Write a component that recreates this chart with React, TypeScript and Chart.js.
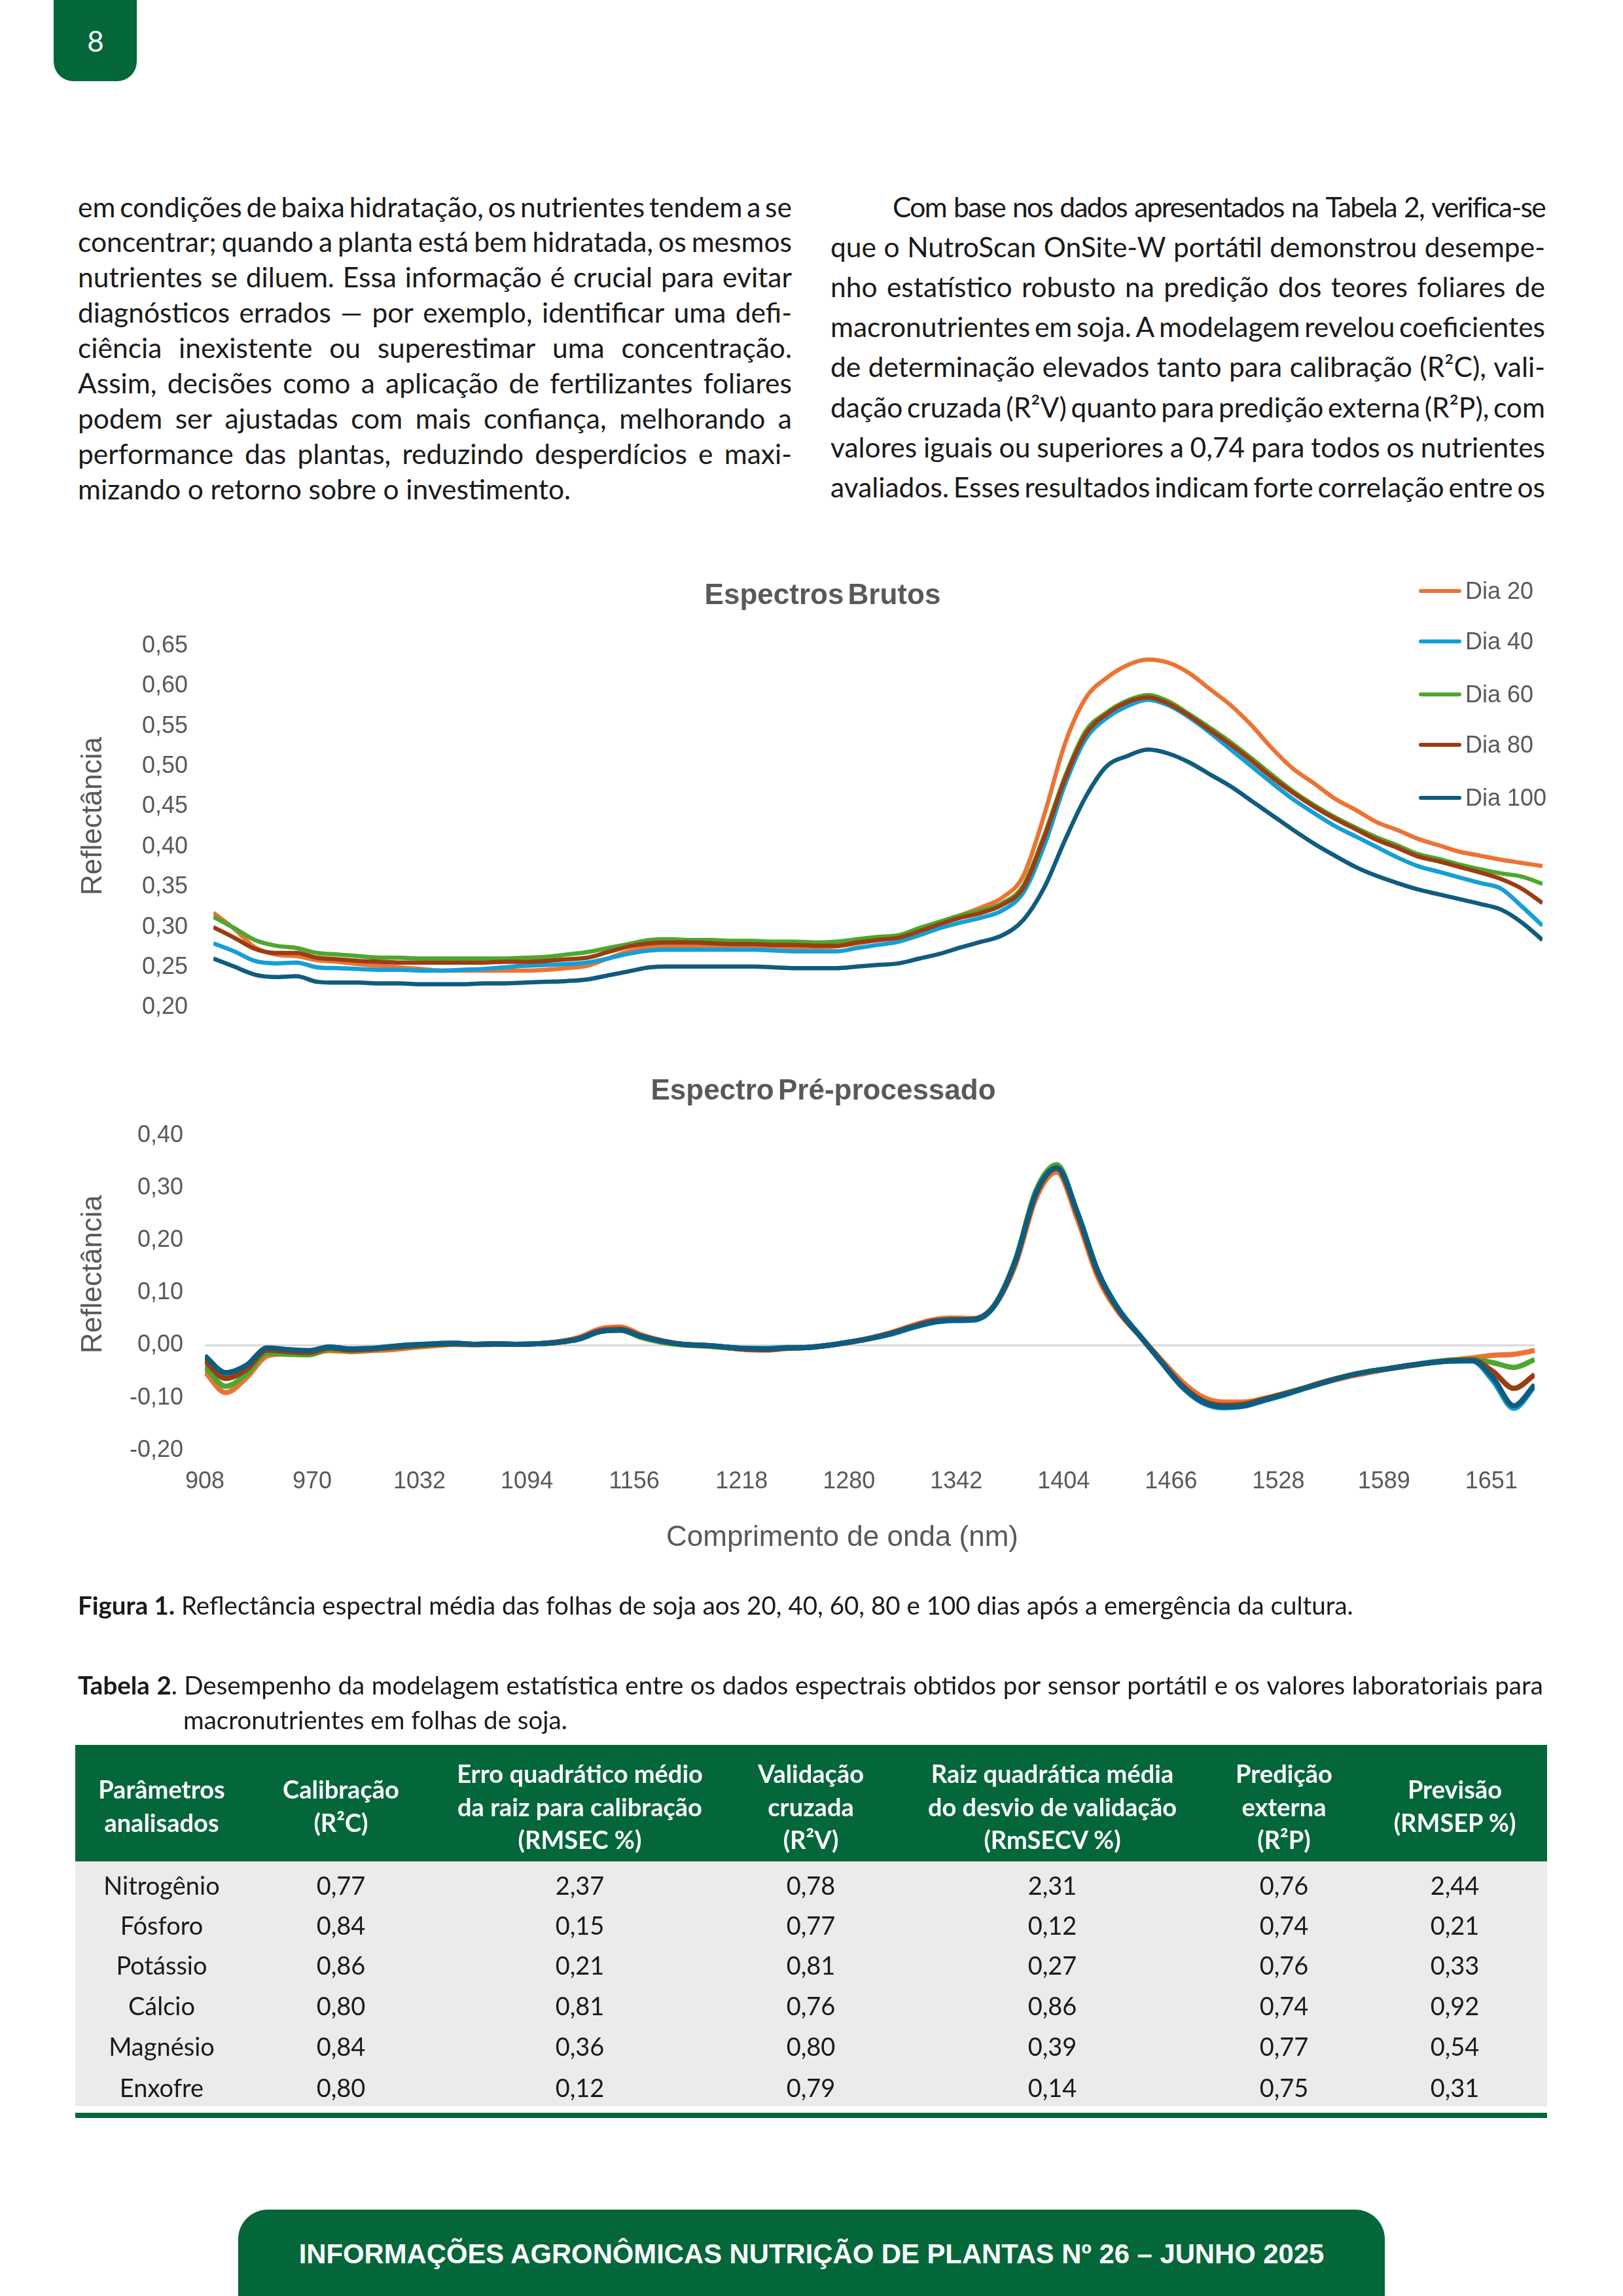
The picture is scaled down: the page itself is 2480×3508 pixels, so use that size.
import React, { useEffect, useRef } from "react";
import { Chart, registerables } from "chart.js";

Chart.register(...registerables);

// ---------------- DATA ----------------
const WAVELENGTHS = [
  908, 920, 932, 944, 956, 968, 980, 992, 1004, 1016,
  1028, 1040, 1052, 1064, 1076, 1088, 1100, 1112, 1124, 1136,
  1148, 1160, 1172, 1184, 1196, 1208, 1220, 1232, 1244, 1256,
  1268, 1280, 1292, 1304, 1316, 1328, 1340, 1352, 1364, 1376,
  1388, 1400, 1412, 1424, 1436, 1448, 1460, 1472, 1484, 1496,
  1508, 1520, 1532, 1544, 1556, 1568, 1580, 1592, 1604, 1616,
  1628, 1640, 1652, 1664, 1676,
];

const SERIES_LABELS = ["Dia 20", "Dia 40", "Dia 60", "Dia 80", "Dia 100"];
const SERIES_COLORS = ["#EB7434", "#149FD6", "#4EA72E", "#9B3D12", "#0F5C80"];

// Espectros Brutos
const RAW_D20 = [
  0.318, 0.298, 0.275, 0.266, 0.264, 0.259, 0.257, 0.254, 0.252, 0.250,
  0.248, 0.246, 0.246, 0.246, 0.246, 0.246, 0.247, 0.249, 0.252, 0.261,
  0.270, 0.275, 0.276, 0.276, 0.276, 0.276, 0.276, 0.276, 0.275, 0.275,
  0.276, 0.280, 0.284, 0.288, 0.297, 0.305, 0.315, 0.325, 0.337, 0.364,
  0.439, 0.528, 0.585, 0.610, 0.626, 0.633, 0.629, 0.616, 0.596, 0.576,
  0.551, 0.522, 0.497, 0.479, 0.460, 0.446, 0.431, 0.421, 0.410, 0.402,
  0.394, 0.389, 0.384, 0.380, 0.376,
];
const RAW_D40 = [
  0.280, 0.270, 0.258, 0.255, 0.256, 0.250, 0.249, 0.248, 0.247, 0.247,
  0.246, 0.246, 0.247, 0.248, 0.250, 0.252, 0.253, 0.254, 0.256, 0.261,
  0.267, 0.271, 0.272, 0.272, 0.272, 0.272, 0.272, 0.271, 0.270, 0.270,
  0.270, 0.274, 0.278, 0.282, 0.290, 0.299, 0.306, 0.312, 0.321, 0.343,
  0.401, 0.477, 0.534, 0.560, 0.575, 0.583, 0.576, 0.561, 0.542, 0.521,
  0.500, 0.479, 0.459, 0.442, 0.426, 0.413, 0.400, 0.387, 0.376, 0.369,
  0.362, 0.355, 0.348, 0.326, 0.302,
];
const RAW_D60 = [
  0.313, 0.299, 0.284, 0.277, 0.274, 0.268, 0.266, 0.264, 0.262, 0.262,
  0.261, 0.261, 0.261, 0.261, 0.261, 0.262, 0.263, 0.266, 0.269, 0.274,
  0.279, 0.284, 0.285, 0.284, 0.284, 0.283, 0.283, 0.282, 0.282, 0.281,
  0.282, 0.285, 0.288, 0.290, 0.299, 0.307, 0.315, 0.321, 0.330, 0.352,
  0.414, 0.487, 0.544, 0.567, 0.582, 0.589, 0.581, 0.565, 0.548, 0.530,
  0.510, 0.489, 0.469, 0.452, 0.437, 0.424, 0.412, 0.402, 0.391, 0.385,
  0.378, 0.372, 0.367, 0.363, 0.354,
];
const RAW_D80 = [
  0.300, 0.287, 0.273, 0.268, 0.268, 0.262, 0.260, 0.258, 0.257, 0.256,
  0.256, 0.256, 0.256, 0.256, 0.257, 0.257, 0.258, 0.260, 0.262, 0.269,
  0.276, 0.280, 0.281, 0.281, 0.280, 0.279, 0.279, 0.278, 0.278, 0.277,
  0.277, 0.281, 0.284, 0.287, 0.295, 0.304, 0.312, 0.318, 0.328, 0.349,
  0.411, 0.484, 0.540, 0.565, 0.580, 0.586, 0.578, 0.563, 0.545, 0.527,
  0.507, 0.486, 0.467, 0.450, 0.435, 0.422, 0.409, 0.399, 0.388, 0.382,
  0.375, 0.368, 0.360, 0.348, 0.330,
];
const RAW_D100 = [
  0.261, 0.251, 0.241, 0.238, 0.239, 0.232, 0.231, 0.231, 0.230, 0.230,
  0.229, 0.229, 0.229, 0.230, 0.230, 0.231, 0.232, 0.233, 0.235, 0.240,
  0.245, 0.250, 0.251, 0.251, 0.251, 0.251, 0.251, 0.250, 0.249, 0.249,
  0.249, 0.251, 0.253, 0.255, 0.261, 0.267, 0.275, 0.282, 0.290, 0.309,
  0.349, 0.408, 0.462, 0.500, 0.513, 0.521, 0.516, 0.505, 0.490, 0.475,
  0.457, 0.439, 0.421, 0.404, 0.389, 0.375, 0.364, 0.355, 0.347, 0.341,
  0.335, 0.329, 0.322, 0.306, 0.284,
];

// Espectro Pré-processado
const PRE_D20 = [
  -0.050, -0.090, -0.062, -0.020, -0.016, -0.016, -0.010, -0.012, -0.010, -0.008,
  -0.004, -0.001, 0.002, 0.001, 0.002, 0.002, 0.003, 0.007, 0.015, 0.031,
  0.035, 0.020, 0.009, 0.002, -0.001, -0.004, -0.008, -0.009, -0.006, -0.004,
  0.000, 0.006, 0.014, 0.024, 0.037, 0.048, 0.052, 0.051, 0.076, 0.152,
  0.280, 0.330, 0.240, 0.128, 0.062, 0.018, -0.026, -0.068, -0.098, -0.108,
  -0.108, -0.101, -0.091, -0.081, -0.070, -0.060, -0.052, -0.045, -0.039, -0.033,
  -0.028, -0.024, -0.019, -0.017, -0.010,
];
const PRE_D40 = [
  -0.023, -0.055, -0.040, -0.006, -0.009, -0.011, -0.003, -0.007, -0.006, -0.002,
  0.001, 0.003, 0.004, 0.002, 0.003, 0.002, 0.003, 0.006, 0.012, 0.026,
  0.029, 0.017, 0.008, 0.002, 0.000, -0.003, -0.006, -0.006, -0.004, -0.004,
  0.000, 0.006, 0.013, 0.021, 0.033, 0.043, 0.047, 0.048, 0.075, 0.158,
  0.288, 0.337, 0.252, 0.139, 0.068, 0.019, -0.030, -0.078, -0.109, -0.119,
  -0.116, -0.105, -0.094, -0.081, -0.069, -0.058, -0.050, -0.044, -0.038, -0.033,
  -0.030, -0.030, -0.068, -0.120, -0.078,
];
const PRE_D60 = [
  -0.040, -0.078, -0.055, -0.015, -0.017, -0.018, -0.008, -0.010, -0.008, -0.005,
  -0.002, 0.001, 0.003, 0.002, 0.002, 0.002, 0.003, 0.006, 0.012, 0.027,
  0.029, 0.015, 0.006, 0.001, -0.001, -0.004, -0.007, -0.007, -0.005, -0.004,
  0.000, 0.006, 0.013, 0.022, 0.034, 0.045, 0.049, 0.050, 0.077, 0.162,
  0.295, 0.344, 0.252, 0.137, 0.066, 0.018, -0.030, -0.076, -0.106, -0.115,
  -0.112, -0.102, -0.091, -0.080, -0.068, -0.058, -0.050, -0.044, -0.038, -0.032,
  -0.028, -0.027, -0.033, -0.042, -0.027,
];
const PRE_D80 = [
  -0.030, -0.063, -0.046, -0.009, -0.012, -0.014, -0.005, -0.009, -0.007, -0.004,
  -0.001, 0.002, 0.003, 0.002, 0.003, 0.002, 0.003, 0.006, 0.013, 0.028,
  0.031, 0.018, 0.008, 0.002, 0.000, -0.003, -0.007, -0.008, -0.005, -0.004,
  0.000, 0.006, 0.013, 0.023, 0.035, 0.046, 0.049, 0.050, 0.076, 0.158,
  0.288, 0.337, 0.249, 0.135, 0.065, 0.018, -0.029, -0.075, -0.105, -0.114,
  -0.112, -0.102, -0.092, -0.080, -0.068, -0.058, -0.050, -0.044, -0.038, -0.033,
  -0.029, -0.028, -0.050, -0.082, -0.056,
];
const PRE_D100 = [
  -0.020, -0.052, -0.038, -0.005, -0.008, -0.010, -0.003, -0.007, -0.006, -0.002,
  0.001, 0.003, 0.004, 0.002, 0.003, 0.002, 0.003, 0.006, 0.012, 0.026,
  0.029, 0.017, 0.008, 0.002, 0.000, -0.003, -0.006, -0.007, -0.005, -0.004,
  0.000, 0.006, 0.013, 0.022, 0.034, 0.044, 0.048, 0.049, 0.076, 0.160,
  0.290, 0.338, 0.252, 0.139, 0.067, 0.018, -0.030, -0.077, -0.107, -0.117,
  -0.115, -0.104, -0.093, -0.081, -0.069, -0.058, -0.050, -0.044, -0.038, -0.033,
  -0.030, -0.029, -0.062, -0.115, -0.075,
];

const RAW_Y_TICKS = [0.2, 0.25, 0.3, 0.35, 0.4, 0.45, 0.5, 0.55, 0.6, 0.65];
const PRE_Y_TICKS = [-0.2, -0.1, 0, 0.1, 0.2, 0.3, 0.4];
const X_TICKS = [908, 970, 1032, 1094, 1156, 1218, 1280, 1342, 1404, 1466, 1528, 1589, 1651];

// Table
const TABLE_PARAMS = ["Nitrogênio", "Fósforo", "Potássio", "Cálcio", "Magnésio", "Enxofre"];
const TABLE_R2C = [0.77, 0.84, 0.86, 0.8, 0.84, 0.8];
const TABLE_RMSEC = [2.37, 0.15, 0.21, 0.81, 0.36, 0.12];
const TABLE_R2V = [0.78, 0.77, 0.81, 0.76, 0.8, 0.79];
const TABLE_RMSECV = [2.31, 0.12, 0.27, 0.86, 0.39, 0.14];
const TABLE_R2P = [0.76, 0.74, 0.76, 0.74, 0.77, 0.75];
const TABLE_RMSEP = [2.44, 0.21, 0.33, 0.92, 0.54, 0.31];
const TABLE_HEADERS = [
  ["Parâmetros", "analisados"],
  ["Calibração", "(R²C)"],
  ["Erro quadrático médio", "da raiz para calibração", "(RMSEC %)"],
  ["Validação", "cruzada", "(R²V)"],
  ["Raiz quadrática média", "do desvio de validação", "(RmSECV %)"],
  ["Predição", "externa", "(R²P)"],
  ["Previsão", "(RMSEP %)"],
];

// Text
const LEFT_LINES = [
  "em condições de baixa hidratação, os nutrientes tendem a se",
  "concentrar; quando a planta está bem hidratada, os mesmos",
  "nutrientes se diluem. Essa informação é crucial para evitar",
  "diagnósticos errados — por exemplo, identificar uma defi-",
  "ciência inexistente ou superestimar uma concentração.",
  "Assim, decisões como a aplicação de fertilizantes foliares",
  "podem ser ajustadas com mais confiança, melhorando a",
  "performance das plantas, reduzindo desperdícios e maxi-",
  "mizando o retorno sobre o investimento.",
];
const RIGHT_LINES = [
  "Com base nos dados apresentados na Tabela 2, verifica-se",
  "que o NutroScan OnSite-W portátil demonstrou desempe-",
  "nho estatístico robusto na predição dos teores foliares de",
  "macronutrientes em soja. A modelagem revelou coeficientes",
  "de determinação elevados tanto para calibração (R²C), vali-",
  "dação cruzada (R²V) quanto para predição externa (R²P), com",
  "valores iguais ou superiores a 0,74 para todos os nutrientes",
  "avaliados. Esses resultados indicam forte correlação entre os",
];

// ---------------- STYLE CONSTANTS ----------------
const GREEN = "#04673A";
const GRAY_TXT = "#595959";
const ARIAL = "'Liberation Sans', Arial, Helvetica, sans-serif";
const BODY = "Lato, 'Open Sans', sans-serif";

const fmt = (v: number) => v.toFixed(2).replace(".", ",");

type TxtProps = {
  x: number;
  y: number;
  size: number;
  text: React.ReactNode;
  align?: "left" | "center" | "right";
  weight?: number | string;
  color?: string;
  family?: string;
  extra?: React.CSSProperties;
};

function Txt({ x, y, size, text, align = "left", weight = 400, color = "#1a1a1a", family = BODY, extra }: TxtProps) {
  const h = Math.round(size * 1.4);
  const W = 2400;
  let left = x;
  if (align === "center") left = x - W / 2;
  if (align === "right") left = x - W;
  return (
    <div
      style={{
        position: "absolute",
        left,
        top: y - h / 2,
        width: W,
        height: h,
        lineHeight: h + "px",
        fontSize: size,
        fontFamily: family,
        fontWeight: weight as any,
        color,
        textAlign: align,
        whiteSpace: "nowrap",
        ...extra,
      }}
    >
      {text}
    </div>
  );
}

function JLine({
  x,
  width,
  y,
  size,
  text,
  justify,
  spacing = 0,
}: {
  x: number;
  width: number;
  y: number;
  size: number;
  text: string;
  justify: boolean;
  spacing?: number;
}) {
  const h = Math.round(size * 1.4);
  const words = text.split(" ");
  return (
    <div
      style={{
        position: "absolute",
        left: x,
        top: y - h / 2,
        width,
        height: h,
        lineHeight: h + "px",
        fontSize: size,
        fontFamily: BODY,
        color: "#1a1a1a",
        whiteSpace: "nowrap",
        letterSpacing: spacing,
        display: "flex",
        justifyContent: justify ? "space-between" : "flex-start",
        gap: justify ? 0 : "0.25em",
      }}
    >
      {words.map((w, i) => (
        <span key={i}>{w}</span>
      ))}
    </div>
  );
}

function makeDatasets(arrs: number[][], lw: number) {
  return arrs.map((a, i) => ({
    label: SERIES_LABELS[i],
    data: WAVELENGTHS.map((w, j) => ({ x: w, y: a[j] })),
    borderColor: SERIES_COLORS[i],
    backgroundColor: SERIES_COLORS[i],
    borderWidth: lw,
    pointRadius: 0,
    pointHoverRadius: 0,
    fill: false,
    cubicInterpolationMode: "monotone" as const,
    order: 4 - i,
  }));
}

export default function App() {
  const c1 = useRef<HTMLCanvasElement>(null);
  const c2 = useRef<HTMLCanvasElement>(null);

  useEffect(() => {
    const tickFont = { family: ARIAL, size: 36 };
    const chart1 = new Chart(c1.current as HTMLCanvasElement, {
      type: "line",
      data: { datasets: makeDatasets([RAW_D20, RAW_D40, RAW_D60, RAW_D80, RAW_D100], 6.5) as any },
      options: {
        responsive: false,
        animation: false,
        devicePixelRatio: 1,
        layout: { padding: { left: 0, right: 43, top: 107, bottom: 60 } },
        plugins: { legend: { display: false }, tooltip: { enabled: false }, title: { display: false } },
        scales: {
          x: { type: "linear", min: 908, max: 1676, display: false },
          y: {
            type: "linear",
            min: 0.2,
            max: 0.65,
            afterFit: (s: any) => {
              s.width = 226;
            },
            afterBuildTicks: (s: any) => {
              s.ticks = RAW_Y_TICKS.map((v) => ({ value: v }));
            },
            grid: { display: false, drawTicks: false },
            border: { display: false },
            ticks: { padding: 39, color: GRAY_TXT, font: tickFont, callback: (v: any) => fmt(Number(v)) },
          },
        },
      } as any,
    });

    const chart2 = new Chart(c2.current as HTMLCanvasElement, {
      type: "line",
      data: { datasets: makeDatasets([PRE_D20, PRE_D40, PRE_D60, PRE_D80, PRE_D100], 8) as any },
      options: {
        responsive: false,
        animation: false,
        devicePixelRatio: 1,
        layout: { padding: { left: 0, right: 55, top: 50, bottom: 24 } },
        plugins: { legend: { display: false }, tooltip: { enabled: false }, title: { display: false } },
        scales: {
          x: {
            type: "linear",
            min: 908,
            max: 1676,
            afterFit: (s: any) => {
              s.height = 80;
            },
            afterBuildTicks: (s: any) => {
              s.ticks = X_TICKS.map((v) => ({ value: v }));
            },
            grid: { display: false, drawTicks: false },
            border: { display: false },
            ticks: {
              padding: 26,
              color: GRAY_TXT,
              font: tickFont,
              autoSkip: false,
              maxRotation: 0,
              minRotation: 0,
              callback: (v: any) => String(v),
            },
          },
          y: {
            type: "linear",
            min: -0.2,
            max: 0.4,
            afterFit: (s: any) => {
              s.width = 213;
            },
            afterBuildTicks: (s: any) => {
              s.ticks = PRE_Y_TICKS.map((v) => ({ value: v }));
            },
            grid: {
              display: true,
              drawTicks: false,
              lineWidth: 3,
              color: (ctx: any) => (ctx.tick && Math.abs(ctx.tick.value) < 1e-9 ? "#D9D9D9" : "rgba(0,0,0,0)"),
            },
            border: { display: false },
            ticks: { padding: 33, color: GRAY_TXT, font: tickFont, callback: (v: any) => fmt(Number(v)) },
          },
        },
      } as any,
    });

    return () => {
      chart1.destroy();
      chart2.destroy();
    };
  }, []);

  const LEGEND_Y = [903, 980, 1061, 1138, 1219];
  const COL_X = [247, 521, 886, 1239, 1608, 1962, 2223];
  const ROW_Y = [2880, 2941, 3002, 3064, 3126, 3189];
  const tableCols = [
    TABLE_PARAMS,
    TABLE_R2C.map(fmt),
    TABLE_RMSEC.map(fmt),
    TABLE_R2V.map(fmt),
    TABLE_RMSECV.map(fmt),
    TABLE_R2P.map(fmt),
    TABLE_RMSEP.map(fmt),
  ];

  const tabelaWords =
    "Tabela 2. Desempenho da modelagem estatística entre os dados espectrais obtidos por sensor portátil e os valores laboratoriais para".split(
      " "
    );

  return (
    <div
      style={{
        position: "absolute",
        left: 0,
        top: 0,
        width: 2480,
        height: 3508,
        background: "#ffffff",
        overflow: "hidden",
      }}
    >
      {/* page tab */}
      <div
        style={{
          position: "absolute",
          left: 82,
          top: 0,
          width: 127,
          height: 124,
          background: GREEN,
          borderBottomLeftRadius: 30,
          borderBottomRightRadius: 30,
        }}
      />
      <Txt x={146} y={62} size={44} text="8" align="center" color="#ffffff" />

      {/* body text */}
      {LEFT_LINES.map((t, i) => (
        <JLine key={"l" + i} x={119} width={1091} y={315 + i * 53.9} size={42.5} text={t} justify={i !== LEFT_LINES.length - 1} />
      ))}
      {RIGHT_LINES.map((t, i) => (
        <JLine
          key={"r" + i}
          x={i === 0 ? 1364 : 1269}
          width={i === 0 ? 2361 - 1364 : 2361 - 1269}
          y={315 + i * 61.2}
          size={42.5}
          text={t}
          justify={true}
          spacing={i === 0 ? -1.7 : 0}
        />
      ))}

      {/* chart 1 */}
      <canvas
        ref={c1}
        width={2300}
        height={720}
        style={{ position: "absolute", left: 100, top: 880, width: 2300, height: 720 }}
      />
      <Txt x={1257} y={908} size={44} text="Espectros Brutos" align="center" weight={700} color={GRAY_TXT} family={ARIAL} extra={{ wordSpacing: -6 }} />
      <Txt
        x={140}
        y={1247}
        size={44}
        text="Reflectância"
        align="center"
        color={GRAY_TXT}
        family={ARIAL}
        extra={{ transform: "rotate(-90deg)" }}
      />
      {SERIES_LABELS.map((lab, i) => (
        <React.Fragment key={"lg" + i}>
          <div
            style={{
              position: "absolute",
              left: 2168,
              top: LEGEND_Y[i] - 3,
              width: 65,
              height: 6,
              borderRadius: 3,
              background: SERIES_COLORS[i],
            }}
          />
          <Txt x={2239} y={LEGEND_Y[i]} size={36} text={lab} color={GRAY_TXT} family={ARIAL} />
        </React.Fragment>
      ))}

      {/* chart 2 */}
      <canvas
        ref={c2}
        width={2300}
        height={640}
        style={{ position: "absolute", left: 100, top: 1680, width: 2300, height: 640 }}
      />
      <Txt x={1258} y={1665} size={44} text="Espectro Pré-processado" align="center" weight={700} color={GRAY_TXT} family={ARIAL} extra={{ wordSpacing: -6 }} />
      <Txt
        x={140}
        y={1947}
        size={44}
        text="Reflectância"
        align="center"
        color={GRAY_TXT}
        family={ARIAL}
        extra={{ transform: "rotate(-90deg)" }}
      />
      <Txt x={1287} y={2347} size={44} text="Comprimento de onda (nm)" align="center" color={GRAY_TXT} family={ARIAL} />

      {/* captions */}
      <Txt
        x={119}
        y={2452}
        size={38.5}
        text={
          <>
            <b>Figura 1.</b> Reflectância espectral média das folhas de soja aos 20, 40, 60, 80 e 100 dias após a emergência da cultura.
          </>
        }
      />
      <div
        style={{
          position: "absolute",
          left: 119,
          top: 2574 - 27,
          width: 2358 - 119,
          height: 54,
          lineHeight: "54px",
          fontSize: 38.5,
          fontFamily: BODY,
          color: "#1a1a1a",
          whiteSpace: "nowrap",
          display: "flex",
          justifyContent: "space-between",
        }}
      >
        {tabelaWords.map((w, i) =>
          i === 0 ? (
            <span key={i} style={{ fontWeight: 700 }}>
              {w}
            </span>
          ) : i === 1 ? (
            <span key={i}>
              <b>2</b>.
            </span>
          ) : (
            <span key={i}>{w}</span>
          )
        )}
      </div>
      <Txt x={280} y={2627} size={38.5} text="macronutrientes em folhas de soja." />

      {/* table */}
      <div style={{ position: "absolute", left: 115, top: 2666, width: 2249, height: 178, background: GREEN }} />
      <div style={{ position: "absolute", left: 115, top: 2844, width: 2249, height: 374, background: "#EBECEA" }} />
      <div style={{ position: "absolute", left: 115, top: 3228, width: 2249, height: 8, background: GREEN }} />
      {TABLE_HEADERS.map((lines, ci) => {
        const ys = lines.length === 3 ? [2709, 2760, 2810] : [2733, 2784];
        return lines.map((ln, li) => (
          <Txt key={"h" + ci + "_" + li} x={COL_X[ci]} y={ys[li]} size={38} text={ln} align="center" weight={700} color="#ffffff" />
        ));
      })}
      {tableCols.map((col, ci) =>
        col.map((v, ri) => <Txt key={"c" + ci + "_" + ri} x={COL_X[ci]} y={ROW_Y[ri]} size={38} text={v} align="center" />)
      )}

      {/* footer */}
      <div
        style={{
          position: "absolute",
          left: 364,
          top: 3376,
          width: 1752,
          height: 140,
          background: GREEN,
          borderTopLeftRadius: 45,
          borderTopRightRadius: 45,
        }}
      />
      <Txt
        x={1240}
        y={3443}
        size={41.8}
        text="INFORMAÇÕES AGRONÔMICAS NUTRIÇÃO DE PLANTAS Nº 26 – JUNHO 2025"
        align="center"
        weight={700}
        color="#ffffff"
        family={ARIAL}
      />
    </div>
  );
}
